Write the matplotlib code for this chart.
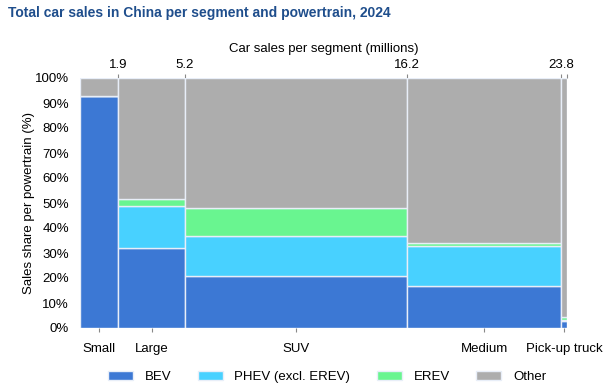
import numpy as np
import matplotlib
matplotlib.use('Agg')
import matplotlib.pyplot as plt

plt.rcParams['font.family'] = ['Liberation Sans', 'DejaVu Sans']

segments = ['Small', 'Large', 'SUV', 'Medium', 'Pick-up truck']
sales = [1.9, 3.3, 11.0, 7.6, 0.3]  # millions
powertrains = ['BEV', 'PHEV (excl. EREV)', 'EREV', 'Other']
bev = [93.0, 32.0, 21.0, 17.0, 2.8]
phev = [0.0, 17.0, 16.0, 16.0, 0.4]
erev = [0.0, 2.5, 11.0, 1.2, 1.3]
colors = ['#3c78d4', '#48d1ff', '#69f590', '#adadad']
top_ticks = [1.9, 5.2, 16.2, 23.8]


def main():
    fig = plt.figure(figsize=(6.08, 3.92), dpi=100)
    ax = fig.add_axes([80 / 608, 1 - 328 / 392, 487 / 608, 250 / 392])

    widths = np.array(sales)
    lefts = np.concatenate([[0], np.cumsum(widths)[:-1]])
    other = [100 - b - p - e for b, p, e in zip(bev, phev, erev)]
    shares = [bev, phev, erev, other]

    bottom = np.zeros(len(segments))
    for name, vals, col in zip(powertrains, shares, colors):
        vals = np.array(vals)
        ax.bar(lefts, vals, width=widths, bottom=bottom, align='edge',
               color=col, edgecolor='#e8eef8', linewidth=1.0, label=name)
        bottom += vals

    total = widths.sum()
    ax.set_xlim(0, total)
    ax.set_ylim(0, 100)
    for side in ['top', 'right', 'bottom', 'left']:
        ax.spines[side].set_visible(False)

    ax.set_yticks(np.arange(0, 101, 10))
    ax.set_yticklabels([f'{v}%' for v in range(0, 101, 10)], fontsize=9.5)
    ax.tick_params(axis='y', length=0, pad=8)
    ax.set_ylabel('Sales share per powertrain (%)', fontsize=9.5, labelpad=0)

    ax.set_xticks(lefts + widths / 2)
    ax.set_xticklabels(segments, fontsize=9.5)
    ax.tick_params(axis='x', length=3, color='#888888', pad=8)

    top = ax.secondary_xaxis('top')
    top.set_xticks(top_ticks + [total])
    top.set_xticklabels([str(t) for t in top_ticks] + [''], fontsize=9.5)
    top.tick_params(axis='x', length=3, color='#888888', pad=2)
    top.spines['top'].set_visible(False)
    top.set_xlabel('Car sales per segment (millions)', fontsize=9.5, labelpad=5)

    fig.text(8 / 608, 1 - 13 / 392, 'Total car sales in China per segment and powertrain, 2024',
             fontsize=10, fontweight='bold', color='#1f4e8c', va='center')

    handles, labels = ax.get_legend_handles_labels()
    fig.legend(handles, labels, loc='center', bbox_to_anchor=(327 / 608, 1 - 377 / 392),
               ncol=4, frameon=False, fontsize=9.5, handlelength=1.9, handleheight=0.6,
               columnspacing=2.0, handletextpad=0.9)

    fig.savefig('out.png', dpi=100)
    plt.close(fig)


if __name__ == '__main__':
    main()
